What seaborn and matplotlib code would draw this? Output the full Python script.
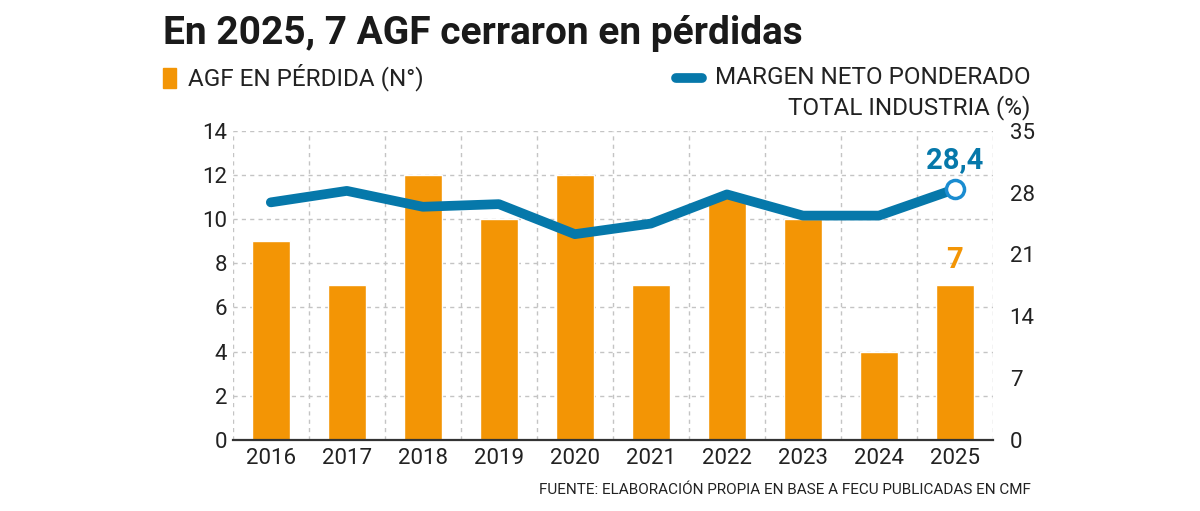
import matplotlib
matplotlib.use("Agg")
import matplotlib.pyplot as plt
import matplotlib.lines as mlines
import matplotlib.patches as mpatches
import seaborn as sns
import pandas as pd

years = ["2016", "2017", "2018", "2019", "2020", "2021", "2022", "2023", "2024", "2025"]
agf_loss = [9, 7, 12, 10, 12, 7, 11, 10, 4, 7]
net_margin = [26.9, 28.2, 26.4, 26.7, 23.3, 24.5, 27.8, 25.4, 25.4, 28.4]

ORANGE = "#F39505"
BLUE = "#0678AA"
TXT = "#222222"

df = pd.DataFrame({"year": years, "agf": agf_loss, "margin": net_margin})

sns.set_style("white")
plt.rcParams["font.family"] = ["Roboto", "DejaVu Sans"]

fig = plt.figure(figsize=(12, 5.11), dpi=100)
ax = fig.add_axes([0.194, 0.139, 0.6335, 0.605])

sns.barplot(data=df, x="year", y="agf", color=ORANGE, width=0.5,
            saturation=1, ax=ax, zorder=2)
ax.set_xlim(-0.5, 9.5)
ax.set_ylim(0, 14)
ax.set_yticks(range(0, 15, 2))
ax.set_xlabel("")
ax.set_ylabel("")

# dashed grid: horizontal at left ticks, vertical between categories
for y in range(0, 15, 2):
    ax.axhline(y, color="#c4c4c4", lw=1, ls=(0, (3, 3)), zorder=0)
for x in [i - 0.5 for i in range(len(years) + 1)]:
    ax.axvline(x, color="#c4c4c4", lw=1, ls=(0, (3, 3)), zorder=0)

for s in ["top", "left", "right"]:
    ax.spines[s].set_visible(False)
ax.spines["bottom"].set_color("#333333")
ax.spines["bottom"].set_linewidth(1.6)
ax.spines["bottom"].set_zorder(5)
ax.tick_params(axis="both", length=0, labelsize=16, colors=TXT, pad=4)
ax.tick_params(axis="x", pad=6)

ax2 = ax.twinx()
sns.lineplot(data=df, x="year", y="margin", color=BLUE, lw=7, ax=ax2,
             solid_capstyle="round", zorder=3)
ax2.set_ylim(0, 35)
ax2.set_yticks(range(0, 36, 7))
ax2.set_ylabel("")
for s in ["top", "left", "right", "bottom"]:
    ax2.spines[s].set_visible(False)
ax2.tick_params(axis="y", length=0, labelsize=16, colors=TXT, pad=12)

ax2.plot([years[-1]], [net_margin[-1]], marker="o", ms=13, mfc="white",
         mec="#1A8CD0", mew=2.5, zorder=6)
ax2.annotate("28,4", xy=(9, net_margin[-1]), xytext=(0, 11),
             textcoords="offset points", ha="center", va="bottom",
             fontsize=21, fontweight="bold", color=BLUE)
ax.annotate(str(agf_loss[-1]), xy=(9, agf_loss[-1]), xytext=(0, 8),
            textcoords="offset points", ha="center", va="bottom",
            fontsize=21, fontweight="bold", color=ORANGE)

fig.text(0.136, 0.935, "En 2025, 7 AGF cerraron en pérdidas", fontsize=28,
         fontweight="bold", color="#1a1a1a", va="center", ha="left")

fig.add_artist(mpatches.Rectangle((0.136, 0.828), 0.011, 0.039,
                                  transform=fig.transFigure, color=ORANGE))
fig.text(0.157, 0.848, "AGF EN PÉRDIDA (N°)", fontsize=17.5, color=TXT,
         va="center", ha="left")
fig.add_artist(mlines.Line2D([0.563, 0.585], [0.848, 0.848], lw=7, color=BLUE,
                             solid_capstyle="round", transform=fig.transFigure))
fig.text(0.859, 0.848, "MARGEN NETO PONDERADO", fontsize=17.5, color=TXT,
         va="center", ha="right")
fig.text(0.859, 0.790, "TOTAL INDUSTRIA (%)", fontsize=17.5, color=TXT,
         va="center", ha="right")
fig.text(0.859, 0.042, "FUENTE: ELABORACIÓN PROPIA EN BASE A FECU PUBLICADAS EN CMF",
         fontsize=11, color=TXT, va="center", ha="right")

fig.savefig("out.png", dpi=100)
